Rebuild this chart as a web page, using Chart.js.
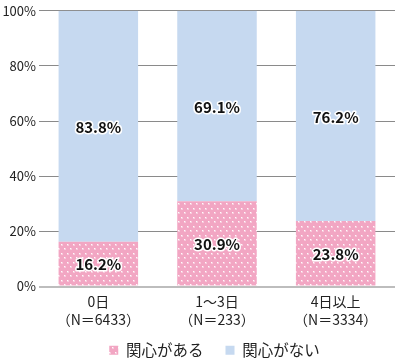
<!DOCTYPE html>
<html>
<head>
<meta charset="utf-8">
<script src="https://cdn.jsdelivr.net/npm/chart.js@4.4.1/dist/chart.umd.min.js"></script>
<style>
  html, body { margin: 0; padding: 0; background: #fff; }
  #wrap { width: 395px; height: 360px; }
</style>
</head>
<body>
<div id="wrap"><canvas id="chart1" width="395" height="360"></canvas></div>
<script>
const categories = [["0日", "（N＝6433）"], ["1〜3日", "（N＝233）"], ["4日以上", "（N＝3334）"]];
const interested = [16.2, 30.9, 23.8];
const notInterested = [83.8, 69.1, 76.2];
const seriesNames = ["関心がある", "関心がない"];
const yTicks = [0, 20, 40, 60, 80, 100];

const FONT = "'Noto Sans CJK JP', 'Noto Sans', sans-serif";

// pink with small white dots, staggered rows
function dotPattern() {
  const c = document.createElement("canvas");
  c.width = 6;
  c.height = 9;
  const g = c.getContext("2d");
  g.fillStyle = "#f2a6c3";
  g.fillRect(0, 0, 6, 9);
  const dot = (x, y) => {
    g.fillStyle = "rgba(255,255,255,0.95)";
    g.fillRect(x, y, 1, 1);
    g.fillStyle = "rgba(255,255,255,0.4)";
    g.fillRect(x + 1, y, 1, 1);
    g.fillRect(x, y + 1, 1, 1);
    g.fillRect(x + 1, y + 1, 1, 1);
  };
  dot(1, 1);
  dot(4, 5);
  return g.createPattern(c, "repeat");
}

const ctx = document.getElementById("chart1").getContext("2d");
const pink = dotPattern();

// percentage labels inside segments, black with white outline
const valueLabels = {
  id: "valueLabels",
  afterLayout(chart) {
    // x labels are clipped to the scale box, let them run down
    chart.scales.x.bottom = chart.height;
    // legend sits centred under the plot area, not the canvas
    chart.legend.left += 17;
    chart.legend.right += 17;
  },
  afterDatasetsDraw(chart) {
    const g = chart.ctx;
    g.save();
    g.font = "bold 15px " + FONT;
    g.textAlign = "center";
    g.textBaseline = "middle";
    g.lineJoin = "round";
    chart.data.datasets.forEach((ds, i) => {
      chart.getDatasetMeta(i).data.forEach((bar, j) => {
        const txt = ds.data[j].toFixed(1) + "%";
        const y = (bar.y + bar.base) / 2 + 1;
        g.strokeStyle = "#fff";
        g.lineWidth = 3;
        g.strokeText(txt, bar.x, y);
        g.fillStyle = "#111";
        g.fillText(txt, bar.x, y);
      });
    });
    g.restore();
  },
};

new Chart(ctx, {
  type: "bar",
  data: {
    labels: categories,
    datasets: [
      {
        label: seriesNames[0],
        data: interested,
        backgroundColor: pink,
        borderWidth: 0,
      },
      {
        label: seriesNames[1],
        data: notInterested,
        backgroundColor: "#c6d9f0",
        borderWidth: 0,
      },
    ],
  },
  options: {
    responsive: false,
    animation: false,
    layout: { padding: { top: 4, right: 0, left: 0, bottom: -8 } },
    datasets: {
      bar: { categoryPercentage: 1, barPercentage: 0.67 },
    },
    plugins: {
      legend: {
        position: "bottom",
        labels: {
          boxWidth: 9,
          boxHeight: 9,
          padding: 22,
          color: "#222",
          font: { family: FONT, size: 15.5 },
        },
      },
      tooltip: { enabled: false },
    },
    scales: {
      x: {
        stacked: true,
        afterFit(scale) {
          scale.height = 34;
        },
        grid: { display: false, drawTicks: false },
        border: { display: false },
        ticks: {
          color: "#222",
          padding: 6,
          font: { family: FONT, size: 14, lineHeight: 1.3 },
          maxRotation: 0,
        },
      },
      y: {
        stacked: true,
        min: 0,
        max: 100,
        afterFit(scale) {
          scale.width = 39;
        },
        afterBuildTicks(scale) {
          scale.ticks = yTicks.map((v) => ({ value: v }));
        },
        grid: {
          drawTicks: false,
          color: (c) => (c.tick && c.tick.value === 0 ? "#bdbdbd" : "#8a8a8a"),
          lineWidth: (c) => (c.tick && c.tick.value === 0 ? 2 : 1),
        },
        border: { display: false },
        ticks: {
          color: "#222",
          padding: 3,
          font: { family: FONT, size: 13 },
          callback: (v) => v + "%",
        },
      },
    },
  },
  plugins: [valueLabels],
});
</script>
</body>
</html>
